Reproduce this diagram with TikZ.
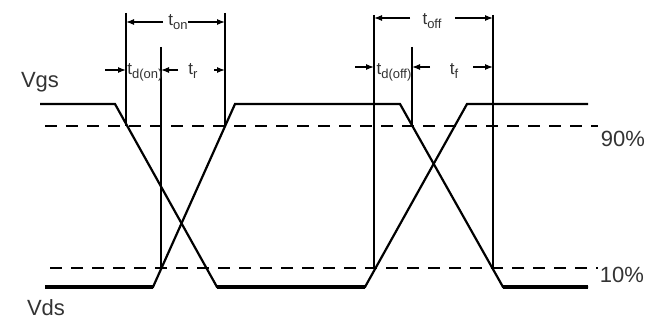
\documentclass[tikz,border=0pt]{standalone}
\usepackage{fontspec}
\setmainfont{Liberation Sans}
\usetikzlibrary{arrows.meta}
\newcommand\tsub[1]{\raisebox{-3.5pt}{\fontsize{13}{13}\selectfont #1}}
\begin{document}
\begin{tikzpicture}[x=1pt,y=-1pt,
  wave/.style={line width=2.2pt, line join=miter},
  lowseg/.style={line width=3.4pt},
  vline/.style={line width=1.2pt},
  level/.style={line width=1.2pt, dash pattern=on 12pt off 9pt},
  dim/.style={line width=1.2pt, -{Latex[length=8pt,width=6pt]}},
  tlab/.style={anchor=base, inner sep=0pt, font=\fontsize{17}{17}\selectfont, text=black!80},
  biglab/.style={anchor=base, inner sep=0pt, font=\fontsize{22}{22}\selectfont, text=black!80}]
\useasboundingbox[fill=white] (0,0) rectangle (661,320);

% waveforms
\coordinate (a1) at (40,104);  \coordinate (a2) at (115,104);
\coordinate (a3) at (217,287); \coordinate (a4) at (365,287);
\coordinate (a5) at (467,104); \coordinate (a6) at (588,104);
\coordinate (b1) at (45,287);  \coordinate (b2) at (153,287);
\coordinate (b3) at (235,104); \coordinate (b4) at (400,104);
\coordinate (b5) at (503,287); \coordinate (b6) at (588,287);
\draw[wave] (a1) -- (a2) -- (a3) -- (a4) -- (a5) -- (a6);
\draw[wave] (b1) -- (b2) -- (b3) -- (b4) -- (b5) -- (b6);
\draw[lowseg] (a3) -- (a4);
\draw[lowseg] (b1) -- (b2);
\draw[lowseg] (b5) -- (b6);

% levels
\coordinate (h90l) at (45,126);  \coordinate (h90r) at (598,126);
\coordinate (h10l) at (50,268);  \coordinate (h10r) at (598,268);
\draw[level] (h90l) -- (h90r);
\draw[level] (h10l) -- (h10r);

% verticals
\coordinate (v1t) at (126,13);  \coordinate (v1b) at (126,126);
\coordinate (v2t) at (161,47);  \coordinate (v2b) at (161,268);
\coordinate (v3t) at (225,13);  \coordinate (v3b) at (225,126);
\coordinate (v4t) at (374,15);  \coordinate (v4b) at (374,268);
\coordinate (v5t) at (412,47);  \coordinate (v5b) at (412,126);
\coordinate (v6t) at (493,15);  \coordinate (v6b) at (493,268);
\foreach \v in {1,...,6} \draw[vline] (v\v t) -- (v\v b);

% dimension arrows
\coordinate (tonl) at (163,22);  \coordinate (tonr) at (188,22);
\draw[dim] (tonl) -- (tonl -| v1t);
\draw[dim] (tonr) -- (tonr -| v3t);
\coordinate (donin) at (105,70); \coordinate (trl) at (178,70); \coordinate (trr) at (214,70);
\draw[dim] (donin) -- (donin -| v1t);
\draw[dim] (trl) -- (trl -| v2t);
\draw[dim] (trr) -- (trr -| v3t);
\coordinate (toffl) at (410,18); \coordinate (toffr) at (455,18);
\draw[dim] (toffl) -- (toffl -| v4t);
\draw[dim] (toffr) -- (toffr -| v6t);
\coordinate (doffin) at (355,67); \coordinate (tfl) at (430,67); \coordinate (tfr) at (473,67);
\draw[dim] (doffin) -- (doffin -| v4t);
\draw[dim] (tfl) -- (tfl -| v5t);
\draw[dim] (tfr) -- (tfr -| v6t);

% labels
\node[tlab] (ton) at (178,26) {t\tsub{on}};
\node[tlab] (tdon) at (145,75) {t\tsub{d(on)}};
\node[tlab] (tr) at (193,75) {t\tsub{r}};
\node[tlab] (toff) at (432,25) {t\tsub{off}};
\node[tlab] (tdoff) at (394,75) {t\tsub{d(off)}};
\node[tlab] (tf) at (454,75) {t\tsub{f}};
\node[biglab] (vgs) at (40,88) {Vgs};
\node[biglab] (vds) at (46,315) {Vds};
\node[biglab] (p90) at (623,147) {90\%};
\node[biglab] (p10) at (622,283) {10\%};
\end{tikzpicture}
\end{document}
